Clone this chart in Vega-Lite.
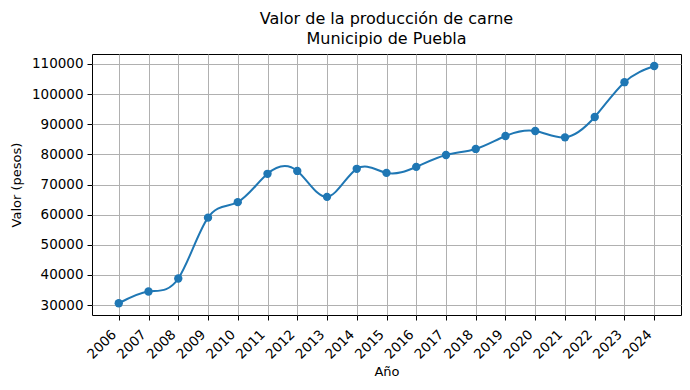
{
  "$schema": "https://vega.github.io/schema/vega-lite/v6.json",
  "width": 589,
  "height": 261,
  "autosize": "none",
  "padding": {"left": 92, "top": 54, "right": 9, "bottom": 75},
  "background": "white",
  "title": {
    "text": ["Valor de la producción de carne", "Municipio de Puebla"],
    "font": "DejaVu Sans",
    "fontSize": 16,
    "fontWeight": "normal",
    "color": "black",
    "anchor": "middle",
    "offset": 7,
    "lineHeight": 20
  },
  "config": {
    "view": {"stroke": "black", "strokeWidth": 1},
    "axis": {
      "labelFont": "DejaVu Sans",
      "labelFontSize": 13.5,
      "labelColor": "black",
      "titleFont": "DejaVu Sans",
      "titleFontSize": 13,
      "titleFontWeight": "normal",
      "titleColor": "black",
      "gridColor": "#b0b0b0",
      "gridWidth": 1,
      "tickColor": "black",
      "tickSize": 5,
      "domain": false,
      "labelOverlap": false
    }
  },
  "data": {
    "values": [
      {"anio": 2006, "valor": 30600},
      {"anio": 2007, "valor": 34500},
      {"anio": 2008, "valor": 38800},
      {"anio": 2009, "valor": 59000},
      {"anio": 2010, "valor": 64150},
      {"anio": 2011, "valor": 73540},
      {"anio": 2012, "valor": 74500},
      {"anio": 2013, "valor": 65900},
      {"anio": 2014, "valor": 75200},
      {"anio": 2015, "valor": 73850},
      {"anio": 2016, "valor": 75850},
      {"anio": 2017, "valor": 79800},
      {"anio": 2018, "valor": 81800},
      {"anio": 2019, "valor": 86100},
      {"anio": 2020, "valor": 87750},
      {"anio": 2021, "valor": 85650},
      {"anio": 2022, "valor": 92400},
      {"anio": 2023, "valor": 103950},
      {"anio": 2024, "valor": 109300}
    ]
  },
  "encoding": {
    "x": {
      "field": "anio",
      "type": "quantitative",
      "scale": {"domain": [2005.1, 2024.9], "nice": false, "zero": false},
      "axis": {
        "title": "Año",
        "values": [2006,2007,2008,2009,2010,2011,2012,2013,2014,2015,2016,2017,2018,2019,2020,2021,2022,2023,2024],
        "format": "d",
        "labelAngle": -45,
        "labelAlign": "right",
        "labelBaseline": "bottom",
        "labelPadding": 17,
        "titlePadding": 5
      }
    },
    "y": {
      "field": "valor",
      "type": "quantitative",
      "scale": {"domain": [26700, 113300], "nice": false, "zero": false},
      "axis": {
        "title": "Valor (pesos)",
        "values": [30000,40000,50000,60000,70000,80000,90000,100000,110000],
        "format": "d",
        "labelPadding": 4,
        "titlePadding": 8
      }
    }
  },
  "layer": [
    {
      "mark": {"type": "line", "interpolate": "natural", "color": "#1f77b4", "strokeWidth": 2}
    },
    {
      "mark": {"type": "point", "filled": true, "opacity": 1, "color": "#1f77b4", "size": 70}
    }
  ]
}
